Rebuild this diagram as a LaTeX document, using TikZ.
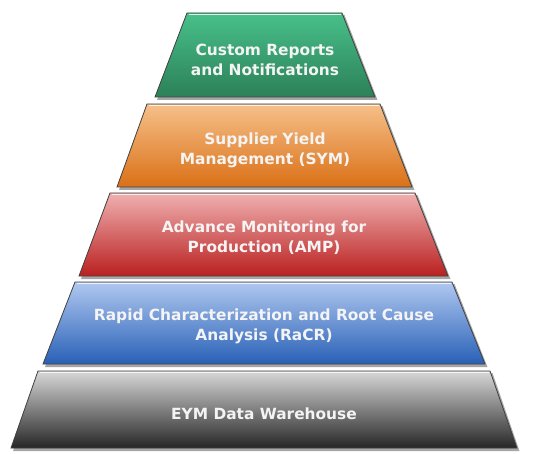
\documentclass[tikz,border=0pt]{standalone}
\usepackage{fontspec}
\setmainfont{DejaVu Sans}
\definecolor{gT}{HTML}{48C08A}\definecolor{gM}{HTML}{3AA872}\definecolor{gB}{HTML}{2C8058}
\definecolor{oT}{HTML}{F6C08A}\definecolor{oM}{HTML}{EC9846}\definecolor{oB}{HTML}{DA7016}
\definecolor{rT}{HTML}{F0B0B0}\definecolor{rM}{HTML}{D65858}\definecolor{rB}{HTML}{BA2020}
\definecolor{bT}{HTML}{B0C8F0}\definecolor{bM}{HTML}{5A8AD6}\definecolor{bB}{HTML}{2860B6}
\definecolor{kT}{HTML}{D8D8D8}\definecolor{kM}{HTML}{8C8C8C}\definecolor{kB}{HTML}{262626}
\definecolor{txt}{HTML}{F4F4F4}
\begin{document}
\begin{tikzpicture}[x=1pt,y=-1pt,
  band/.style={draw=black!75,line width=0.8pt,shading=axis,shading angle=0},
  shadowband/.style={fill=black,opacity=0.35},
  lbl/.style={text=txt,font=\bfseries\fontsize{15.4}{20}\selectfont,align=center,inner sep=0pt}]
\fill[white] (0,0) rectangle (540,454);
\useasboundingbox (0,0) rectangle (540,454);
% shadows
\foreach \a/\b/\c/\d/\t/\bt in {187/342/155/375/13/97, 147/380/117/412/104/187, 110/415/79/448/193/276, 75/452/43/485/282/364, 38/490/11/517/371/448}{
  \fill[shadowband] (\a+2,\t+2) -- (\b+2.5,\t+2) -- (\d+2.5,\bt+3) -- (\c+2,\bt+3) -- cycle;
}
% bands
\path[band,top color=gT,middle color=gM,bottom color=gB]
  (187,13) -- (342,13) -- (375,97) -- (155,97) -- cycle;
\path[band,top color=oT,middle color=oM,bottom color=oB]
  (147,104) -- (380,104) -- (412,187) -- (117,187) -- cycle;
\path[band,top color=rT,middle color=rM,bottom color=rB]
  (110,193) -- (415,193) -- (448,276) -- (79,276) -- cycle;
\path[band,top color=bT,middle color=bM,bottom color=bB]
  (75,282) -- (452,282) -- (485,364) -- (43,364) -- cycle;
\path[band,top color=kT,middle color=kM,bottom color=kB]
  (38,371) -- (490,371) -- (517,448) -- (11,448) -- cycle;
% highlights
\foreach \a/\b/\t in {187/342/13, 147/380/104, 110/415/193, 75/452/282, 38/490/371}{
  \draw[white,opacity=0.8,line width=1.2pt] (\a+1.5,\t+1.8) -- (\b-1.5,\t+1.8);
}
% labels
\node[lbl] (n1) at (265,60) {Custom Reports\\and Notifications};
\node[lbl] (n2) at (265,150) {Supplier Yield\\Management (SYM)};
\node[lbl] (n3) at (264,238) {Advance Monitoring for\\Production (AMP)};
\node[lbl] (n4) at (264,326) {Rapid Characterization and Root Cause\\Analysis (RaCR)};
\node[lbl] (n5) at (264,414) {EYM Data Warehouse};
\end{tikzpicture}
\end{document}
